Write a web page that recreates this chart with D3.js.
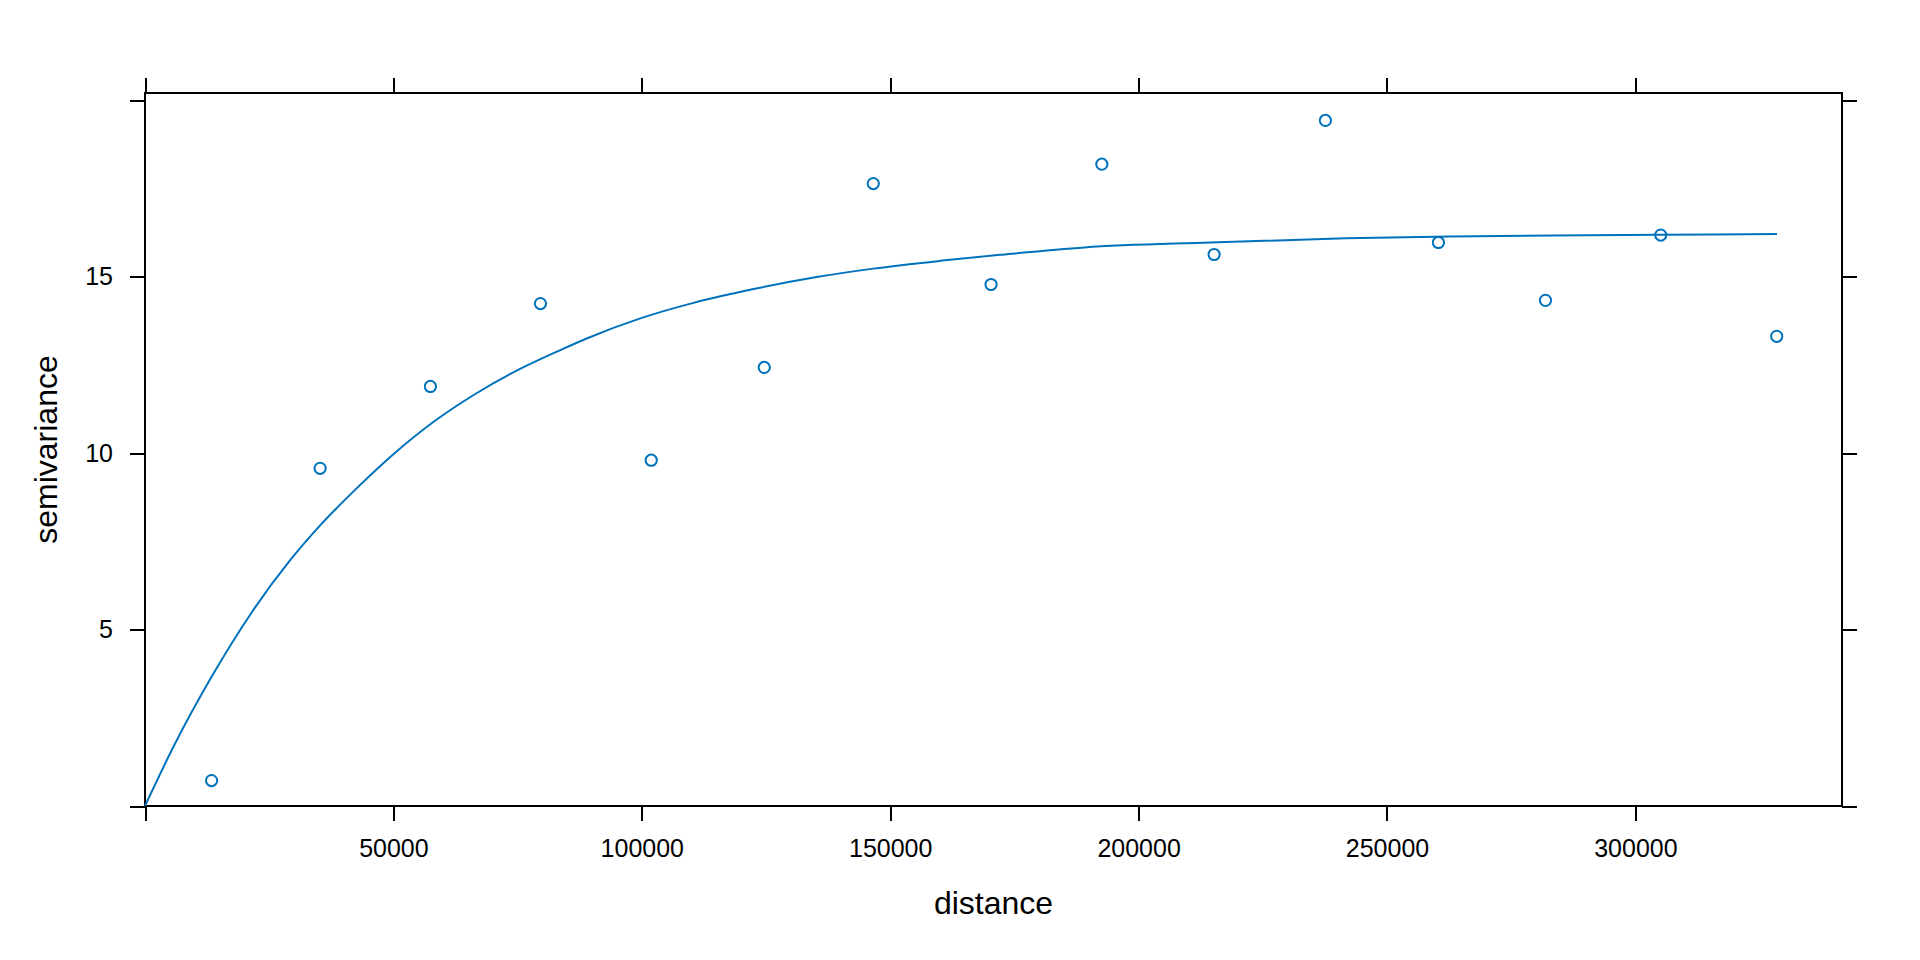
<!DOCTYPE html>
<html>
<head>
<meta charset="utf-8">
<script src="https://cdn.jsdelivr.net/npm/d3@7/dist/d3.min.js"></script>
<style>
  html, body { margin: 0; padding: 0; background: #ffffff; }
  svg { display: block; }
  text { font-family: "Liberation Sans", Arial, sans-serif; fill: #000; }
</style>
</head>
<body>
<svg id="chart" width="1920" height="960"></svg>
<script>
// ---- data ----
const distance = [13400, 35250, 57450, 79600, 101900, 124650, 146600, 170300,
                  192600, 215200, 237600, 260350, 281900, 305100, 328450];
const semivariance = [0.72, 9.57, 11.89, 14.24, 9.80, 12.43, 17.64, 14.78,
                      18.19, 15.63, 19.43, 15.97, 14.33, 16.18, 13.31];

// fitted model line
const modelDist = [0, 5800, 13400, 21300, 29300, 35300, 42800, 50000, 58300, 66400,
                   75100, 83900, 88900, 99700, 110400, 122500, 135200, 146600,
                   160000, 172100, 189100, 214400, 241700, 262800, 283800, 304900, 328500];
const modelGamma = [0, 1.70, 3.66, 5.45, 6.98, 7.96, 9.03, 9.97, 10.91, 11.67,
                    12.36, 12.94, 13.25, 13.82, 14.26, 14.65, 14.99, 15.23,
                    15.45, 15.62, 15.83, 15.97, 16.09, 16.14, 16.17, 16.19, 16.21];

const xTicks = [0, 50000, 100000, 150000, 200000, 250000, 300000];
const yTicks = [0, 5, 10, 15, 20];
const xLabelled = [50000, 100000, 150000, 200000, 250000, 300000];
const yLabelled = [5, 10, 15];

const xTitle = "distance";
const yTitle = "semivariance";

// ---- layout ----
const pLeft = 145, pRight = 1842, pTop = 93, pBottom = 806;
const blue = "#0072bc";

const svg = d3.select("#chart");

const x = d3.scaleLinear()
  .domain([0, d3.max(distance) * 1.04])
  .range([pLeft, pRight]);
const y = d3.scaleLinear()
  .domain([0, d3.max(semivariance) * 1.04])
  .range([pBottom, pTop]);

// axes (ticks on all four sides)
const tickFontSize = 25;
function styleAxis(g) {
  g.select(".domain").remove();
  g.selectAll(".tick line").attr("stroke", "#000").attr("stroke-width", 2)
    .attr("shape-rendering", "crispEdges");
  g.selectAll(".tick text").attr("font-size", tickFontSize)
    .attr("font-family", "'Liberation Sans', Arial, sans-serif").attr("fill", "#000");
}

svg.append("g")
  .attr("transform", `translate(0,${pBottom})`)
  .call(d3.axisBottom(x).tickValues(xTicks).tickSize(15).tickPadding(18)
    .tickFormat(d => xLabelled.includes(d) ? String(d) : ""))
  .call(styleAxis);

svg.append("g")
  .attr("transform", `translate(0,${pTop})`)
  .call(d3.axisTop(x).tickValues(xTicks).tickSize(15).tickFormat(""))
  .call(styleAxis);

svg.append("g")
  .attr("transform", `translate(${pLeft},0)`)
  .call(d3.axisLeft(y).tickValues(yTicks).tickSize(15).tickPadding(17)
    .tickFormat(d => yLabelled.includes(d) ? String(d) : ""))
  .call(styleAxis);

svg.append("g")
  .attr("transform", `translate(${pRight},0)`)
  .call(d3.axisRight(y).tickValues(yTicks).tickSize(15).tickFormat(""))
  .call(styleAxis);

// plot frame
svg.append("rect")
  .attr("x", pLeft).attr("y", pTop)
  .attr("width", pRight - pLeft).attr("height", pBottom - pTop)
  .attr("fill", "none").attr("stroke", "#000").attr("stroke-width", 2)
  .attr("shape-rendering", "crispEdges");

// model line
const modelData = modelDist.map((d, i) => [d, modelGamma[i]]);
svg.append("path")
  .datum(modelData)
  .attr("fill", "none")
  .attr("stroke", blue)
  .attr("stroke-width", 2)
  .attr("d", d3.line().x(d => x(d[0])).y(d => y(d[1])).curve(d3.curveMonotoneX));

// sample variogram points
svg.append("g")
  .selectAll("circle")
  .data(distance.map((d, i) => [d, semivariance[i]]))
  .join("circle")
  .attr("cx", d => x(d[0]))
  .attr("cy", d => y(d[1]))
  .attr("r", 5.6)
  .attr("fill", "none")
  .attr("stroke", blue)
  .attr("stroke-width", 2);

// axis titles
svg.append("text")
  .attr("x", (pLeft + pRight) / 2)
  .attr("y", 914)
  .attr("text-anchor", "middle")
  .attr("font-size", 32)
  .text(xTitle);

svg.append("text")
  .attr("transform", `translate(57,${(pTop + pBottom) / 2}) rotate(-90)`)
  .attr("text-anchor", "middle")
  .attr("font-size", 32)
  .text(yTitle);
</script>
</body>
</html>
